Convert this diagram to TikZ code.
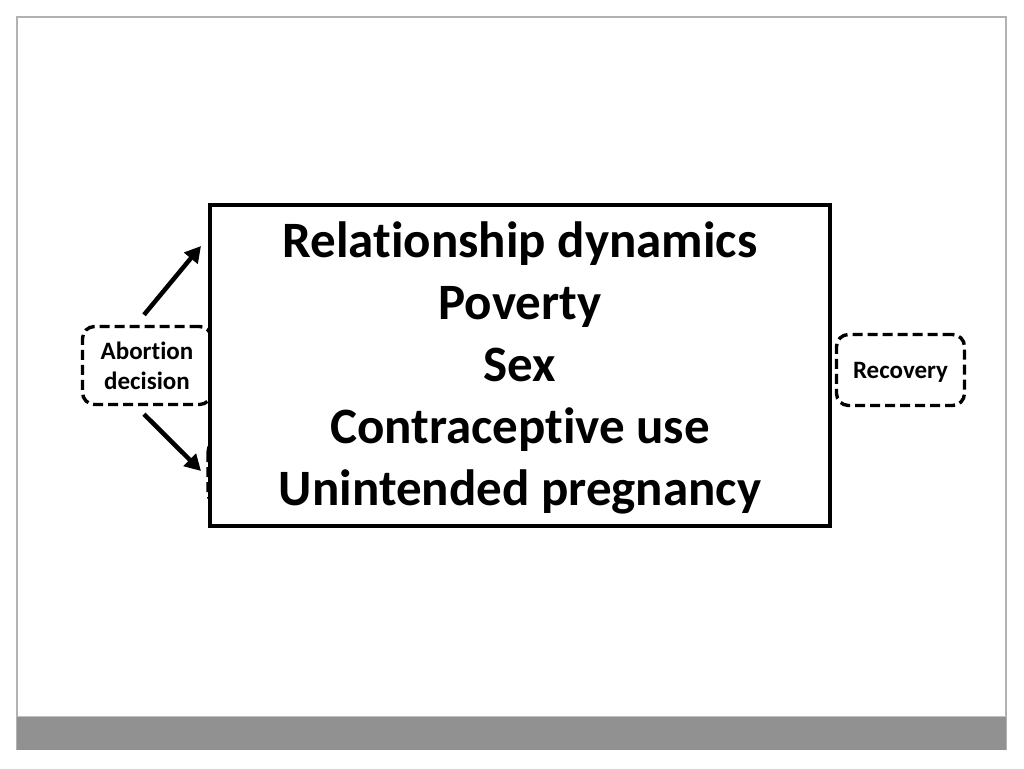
\documentclass[tikz,border=0pt]{standalone}
\usepackage{fontspec}
\setmainfont[Ligatures=NoCommon]{Carlito}
\usetikzlibrary{arrows.meta}
\begin{document}
\begin{tikzpicture}[x=1pt,y=-1pt,
  dbox/.style={draw=black,line width=3.4pt,dash pattern=on 10pt off 5pt,rounded corners=12pt,fill=white},
  arr/.style={line width=4.5pt,-{Triangle[length=16pt,width=17pt]}},
  bigtxt/.style={font=\bfseries\fontsize{51}{62}\selectfont,align=center},
  smtxt/.style={font=\bfseries\fontsize{25}{30}\selectfont,align=center}]
\useasboundingbox (0,0) rectangle (1024,768);
\fill[white] (0,0) rectangle (1024,768);
\draw[line width=1.2pt,draw=black!30] (17,750) -- (17,17) -- (1006,17) -- (1006,750);
\fill[black!43] (17,716) rectangle (1006,750);
\draw[line width=1pt,draw=black!25] (17,716) -- (1006,716);
% hidden box behind main box
\path[dbox] (208,440) rectangle (330,505);
\node[dbox,minimum width=129pt,minimum height=78pt,smtxt] (abort) at (147,365.5) {Abortion\\decision};
\node[dbox,minimum width=128pt,minimum height=71pt,smtxt,text depth=0pt] (recov) at (900.5,370) {Recovery};
\node[draw=black,line width=4pt,fill=white,minimum width=620pt,minimum height=321pt] (main) at (520,365.5) {};
\node[bigtxt] (txt) at (520,368) {Relationship dynamics\\Poverty\\Sex\\Contraceptive use\\Unintended pregnancy};
\coordinate (t1) at (201,246);
\coordinate (t2) at (201,471);
\draw[arr] (abort.north) ++(-3,-10) coordinate (a1) -- (t1);
\draw[arr] (abort.south) ++(-3,8) coordinate (a2) -- (t2);
\end{tikzpicture}
\end{document}
